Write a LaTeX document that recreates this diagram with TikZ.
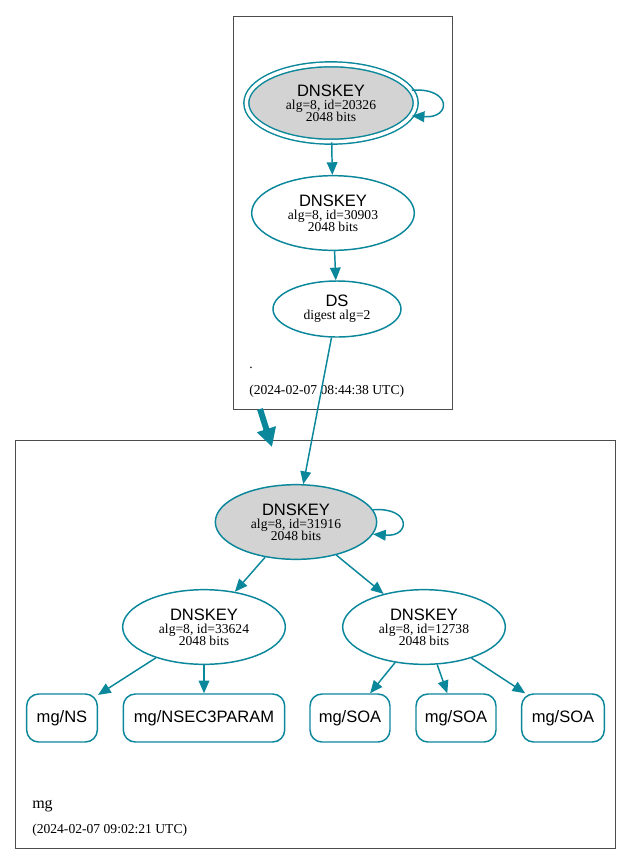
\documentclass[tikz,border=0pt]{standalone}
\usepackage{fontspec}
\setmainfont{Liberation Serif}
\setsansfont{Liberation Sans}
\usetikzlibrary{shapes.geometric,arrows.meta}
\definecolor{dteal}{HTML}{0A879A}
\definecolor{gfill}{HTML}{D3D3D3}
\begin{document}
\begin{tikzpicture}[x=0.75pt,y=-0.75pt,
  cluster/.style={draw=black!70,line width=0.6pt},
  keynode/.style={ellipse,draw=dteal,line width=1.1pt,inner sep=0pt,align=center},
  rrnode/.style={rectangle,rounded corners=9pt,draw=dteal,line width=1.1pt,minimum height=36pt,inner sep=0pt,font=\sffamily\fontsize{12.4}{14}\selectfont},
  edge/.style={draw=dteal,line width=1.1pt,-{Triangle[length=9.5pt,width=8pt]}},
  det/.style={font=\fontsize{10.2}{11}\selectfont},
  lbl/.style={anchor=west,inner sep=0pt}]
\useasboundingbox (0,0) rectangle (632,865);
% clusters
\draw[cluster] (233,16) rectangle (452,409);
\draw[cluster] (15,440) rectangle (615,848);
\node[lbl,det] (dotlbl) at (249,368) {.};
\node[lbl,det] (toptime) at (249,391) {(2024-02-07 08:44:38 UTC)};
\node[lbl,font=\fontsize{12}{14}\selectfont] (mglbl) at (32,806) {mg};
\node[lbl,det] (bottime) at (32,830) {(2024-02-07 09:02:21 UTC)};
% nodes
\node[keynode,fill=gfill,double=white,double distance=2.6pt,minimum width=127pt,minimum height=58pt] (k1) at (331,103)
  {{\fontsize{12.4}{14}\sffamily DNSKEY}\\[-2pt]{\fontsize{10.2}{11}\selectfont alg=8, id=20326}\\[-3pt]{\fontsize{10.2}{11}\selectfont 2048 bits}};
\node[keynode,minimum width=122pt,minimum height=56pt] (k2) at (333,213)
  {{\fontsize{12.4}{14}\sffamily DNSKEY}\\[-2pt]{\fontsize{10.2}{11}\selectfont alg=8, id=30903}\\[-3pt]{\fontsize{10.2}{11}\selectfont 2048 bits}};
\node[keynode,minimum width=96pt,minimum height=42pt] (ds) at (337,309)
  {{\fontsize{12.4}{14}\sffamily DS}\\[-2pt]{\fontsize{10.2}{11}\selectfont digest alg=2}};
\node[keynode,fill=gfill,minimum width=121pt,minimum height=56pt] (k3) at (296,522)
  {{\fontsize{12.4}{14}\sffamily DNSKEY}\\[-2pt]{\fontsize{10.2}{11}\selectfont alg=8, id=31916}\\[-3pt]{\fontsize{10.2}{11}\selectfont 2048 bits}};
\node[keynode,minimum width=122pt,minimum height=56pt] (k4) at (204,627)
  {{\fontsize{12.4}{14}\sffamily DNSKEY}\\[-2pt]{\fontsize{10.2}{11}\selectfont alg=8, id=33624}\\[-3pt]{\fontsize{10.2}{11}\selectfont 2048 bits}};
\node[keynode,minimum width=122pt,minimum height=56pt] (k5) at (424,627)
  {{\fontsize{12.4}{14}\sffamily DNSKEY}\\[-2pt]{\fontsize{10.2}{11}\selectfont alg=8, id=12738}\\[-3pt]{\fontsize{10.2}{11}\selectfont 2048 bits}};
\node[rrnode,minimum width=53pt] (ns) at (62,718) {mg/NS};
\node[rrnode,minimum width=121pt] (n3p) at (204,718) {mg/NSEC3PARAM};
\node[rrnode,minimum width=60pt] (soa1) at (350,718) {mg/SOA};
\node[rrnode,minimum width=60pt] (soa2) at (456,718) {mg/SOA};
\node[rrnode,minimum width=62pt] (soa3) at (563,718) {mg/SOA};
% edges
\draw[edge] (k1) -- (k2);
\draw[edge] (k2) -- (ds);
\draw[edge] (ds) -- (k3);
\draw[edge] (k1.9) .. controls +(40,-3) and +(40,3) .. (k1.-9);
\draw[edge] (k3.9) .. controls +(38,-3) and +(38,3) .. (k3.-9);
\draw[edge] (k3) -- (k4);
\draw[edge] (k3) -- (k5);
\draw[edge] (k4) -- (ns);
\draw[edge] (k4) -- (n3p);
\draw[edge] (k5) -- (soa1);
\draw[edge] (k5) -- (soa2);
\draw[edge] (k5) -- (soa3);
% cluster arrow
\coordinate (ca) at (260,409);
\coordinate (cb) at (272,447);
\draw[draw=dteal,line width=4.5pt,-{Triangle[length=14pt,width=14pt]}] (ca) -- (cb);
\end{tikzpicture}
\end{document}
